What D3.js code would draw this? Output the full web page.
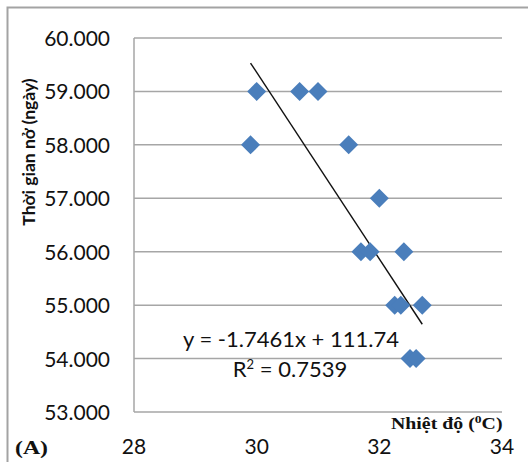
<!DOCTYPE html>
<html>
<head>
<meta charset="utf-8">
<script src="https://cdn.jsdelivr.net/npm/d3@7"></script>
<style>
  body { margin: 0; background: #fff; }
  svg { display: block; }
</style>
</head>
<body>
<svg id="chart" width="528" height="462"></svg>
<script>
// data
var temps = [29.9, 30.0, 30.7, 31.0, 31.5, 32.0, 31.7, 31.85, 32.4, 32.25, 32.35, 32.7, 32.5, 32.6];
var days  = [58,   59,   59,   59,   58,   57,   56,   56,    56,   55,    55,    55,   54,   54];
var yTicks = [53, 54, 55, 56, 57, 58, 59, 60];
var xTicks = [28, 30, 32, 34];
// trend line from the chart's own equation
var slope = -1.7461, intercept = 111.74;

var svg = d3.select("#chart");

var x = d3.scaleLinear().domain([28, 34]).range([134, 502]);
var y = d3.scaleLinear().domain([53, 60]).range([412, 38]);

// outer frame (left + top only)
svg.append("path")
  .attr("d", "M7.5,462 L7.5,7.5 L528,7.5")
  .attr("fill", "none")
  .attr("stroke", "#a3a3a3")
  .attr("stroke-width", 2);

// horizontal gridlines
svg.selectAll(".grid")
  .data(yTicks)
  .enter()
  .append("line")
    .attr("x1", x(28))
    .attr("x2", x(34))
    .attr("y1", function(d){ return y(d) })
    .attr("y2", function(d){ return y(d) })
    .attr("stroke", "#a6a6a6")
    .attr("stroke-width", 1.5);

// y axis line
svg.append("line")
  .attr("x1", x(28)).attr("x2", x(28))
  .attr("y1", y(60)).attr("y2", y(53))
  .attr("stroke", "#a6a6a6")
  .attr("stroke-width", 1.5);

// y tick labels
svg.selectAll(".ylab")
  .data(yTicks)
  .enter()
  .append("text")
    .attr("x", 110)
    .attr("y", function(d){ return y(d) })
    .attr("dy", "0.38em")
    .attr("text-anchor", "end")
    .style("font-family", "Lato, sans-serif")
    .style("font-size", "21px")
    .attr("fill", "#111")
    .text(function(d){ return d3.format(".3f")(d) });

// x tick labels
svg.selectAll(".xlab")
  .data(xTicks)
  .enter()
  .append("text")
    .attr("x", function(d){ return x(d) })
    .attr("y", 454)
    .attr("text-anchor", "middle")
    .style("font-family", "Lato, sans-serif")
    .style("font-size", "21px")
    .attr("fill", "#111")
    .text(function(d){ return d });

// trend line
var xmin = d3.min(temps), xmax = d3.max(temps);
svg.append("line")
  .attr("x1", x(xmin)).attr("y1", y(slope * xmin + intercept))
  .attr("x2", x(xmax)).attr("y2", y(slope * xmax + intercept))
  .attr("stroke", "#111")
  .attr("stroke-width", 1.4);

// diamond markers
var pts = temps.map(function(t, i){ return {t: t, d: days[i]} });
var r = 9.5;
svg.selectAll(".pt")
  .data(pts)
  .enter()
  .append("path")
    .attr("d", function(p){
      var cx = x(p.t), cy = y(p.d);
      return "M" + (cx - r) + "," + cy + "L" + cx + "," + (cy - r) +
             "L" + (cx + r) + "," + cy + "L" + cx + "," + (cy + r) + "Z";
    })
    .attr("fill", "#4a7ebb");

// equation
svg.append("text")
  .attr("x", 291).attr("y", 347)
  .attr("text-anchor", "middle")
  .style("font-family", "Lato, sans-serif")
  .style("font-size", "22px")
  .attr("fill", "#111")
  .text("y = -1.7461x + 111.74");

var r2 = svg.append("text")
  .attr("x", 290).attr("y", 377)
  .attr("text-anchor", "middle")
  .style("font-family", "Lato, sans-serif")
  .style("font-size", "22px")
  .attr("fill", "#111");
r2.append("tspan").text("R");
r2.append("tspan").attr("dy", -8).style("font-size", "13px").text("2");
r2.append("tspan").attr("dy", 8).text(" = 0.7539");

// y axis title
svg.append("text")
  .attr("transform", "translate(35,152) rotate(-90)")
  .attr("text-anchor", "middle")
  .style("font-family", "Lato, sans-serif")
  .style("font-weight", "bold")
  .style("font-size", "17.5px")
  .attr("fill", "#111")
  .text("Thời gian nở (ngày)");

// x axis title
var xt = svg.append("text")
  .attr("transform", "translate(391,429) scale(1.24,1)")
  .style("font-family", "'Liberation Serif', 'Times New Roman', serif")
  .style("font-weight", "bold")
  .style("font-size", "16px")
  .attr("fill", "#111");
xt.append("tspan").text("Nhiệt độ (");
xt.append("tspan").attr("dy", -6).style("font-size", "11px").text("0");
xt.append("tspan").attr("dy", 6).text("C)");

// panel label
svg.append("text")
  .attr("transform", "translate(15,454) scale(1.25,1)")
  .style("font-family", "'Liberation Serif', 'Times New Roman', serif")
  .style("font-weight", "bold")
  .style("font-size", "19px")
  .attr("fill", "#111")
  .text("(A)");
</script>
</body>
</html>
